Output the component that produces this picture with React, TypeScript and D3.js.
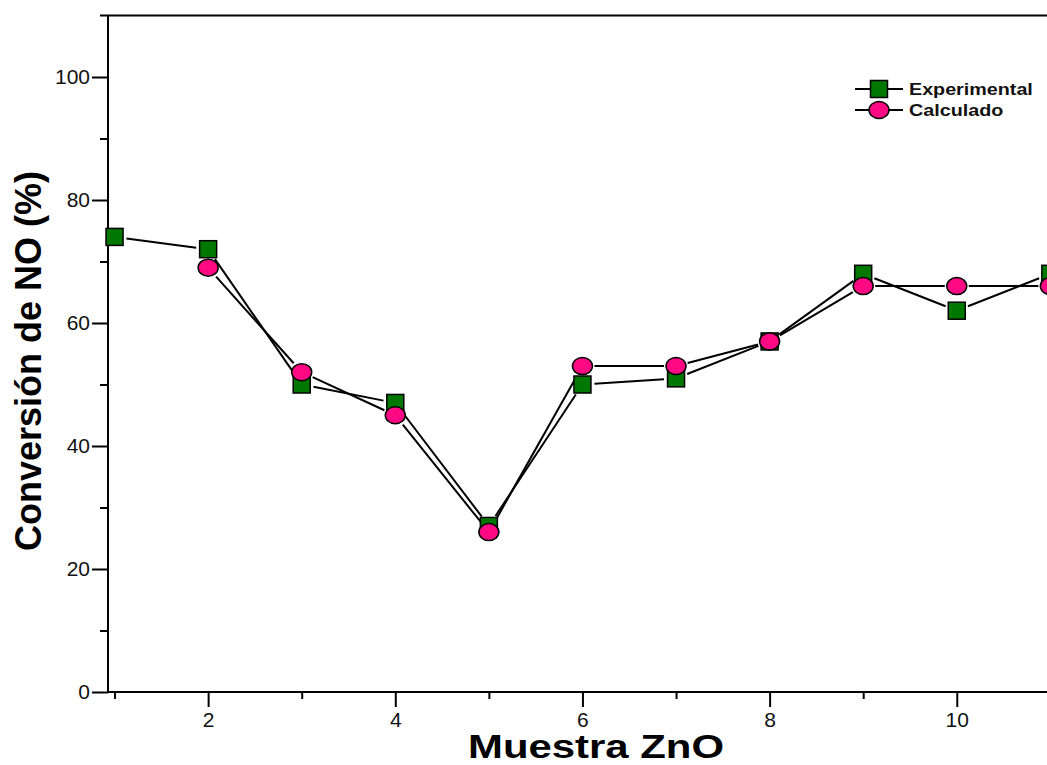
import React, { useEffect, useRef } from 'react';
import * as d3 from 'd3';

const W = 1047;
const H = 765;

// samples 1..11
const expX = [1, 2, 3, 4, 5, 6, 7, 8, 9, 10, 11];
const expY = [74, 72, 50, 47, 27, 50, 51, 57, 68, 62, 68];
const calcX = [2, 3, 4, 5, 6, 7, 8, 9, 10, 11];
const calcY = [69, 52, 45, 26, 53, 53, 57, 66, 66, 66];

const yMajor = [0, 20, 40, 60, 80, 100];
const yMinor = [10, 30, 50, 70, 90];
const xMajor = [2, 4, 6, 8, 10];
const xMinor = [1, 3, 5, 7, 9, 11];

const seriesNames = ['Experimental', 'Calculado'];

const GREEN = '#007800';
const PINK = '#ff0a84';
const FONT = 'Arial, "Liberation Sans", sans-serif';

export default function App() {
  const svgRef = useRef<SVGSVGElement>(null);

  useEffect(() => {
    if (!svgRef.current) return;
    const svg = d3.select(svgRef.current);
    svg.selectAll('*').remove();

    const x = d3.scaleLinear().domain([0.93, 11.5]).range([108, 108 + 10.57 * 93.58]);
    const y = d3.scaleLinear().domain([0, 110]).range([692, 15.5]);

    // frame
    svg.append('line').attr('x1', 100).attr('x2', W).attr('y1', y(110)).attr('y2', y(110))
      .attr('stroke', '#000').attr('stroke-width', 2);
    svg.append('line').attr('x1', 108).attr('x2', 108).attr('y1', y(110)).attr('y2', y(0) + 1)
      .attr('stroke', '#000').attr('stroke-width', 2);
    svg.append('line').attr('x1', 107).attr('x2', W).attr('y1', y(0)).attr('y2', y(0))
      .attr('stroke', '#000').attr('stroke-width', 2);

    // y axis
    const gy = svg.append('g').attr('transform', 'translate(108,0)');
    gy.call(d3.axisLeft(y).tickValues(yMajor).tickSize(16).tickPadding(2).tickFormat(d3.format('d')));
    gy.append('g').call(d3.axisLeft(y).tickValues(yMinor).tickSize(8).tickFormat(() => ''));
    gy.selectAll('.domain').remove();
    gy.selectAll('line').attr('stroke', '#000').attr('stroke-width', 2);
    gy.selectAll('text').attr('font-family', FONT).attr('font-size', 21).attr('fill', '#111');

    // x axis
    const gx = svg.append('g').attr('transform', `translate(0,${y(0)})`);
    gx.call(d3.axisBottom(x).tickValues(xMajor).tickSize(15).tickPadding(5).tickFormat(d3.format('d')));
    gx.append('g').call(d3.axisBottom(x).tickValues(xMinor).tickSize(7).tickFormat(() => ''));
    gx.selectAll('.domain').remove();
    gx.selectAll('line').attr('stroke', '#000').attr('stroke-width', 2);
    gx.selectAll('text').attr('font-family', FONT).attr('font-size', 21).attr('fill', '#111');

    // titles
    svg.append('text')
      .attr('transform', `translate(596,758) scale(1.27,1)`)
      .attr('text-anchor', 'middle')
      .attr('font-family', FONT).attr('font-weight', 'bold').attr('font-size', 33)
      .text('Muestra ZnO');
    svg.append('text')
      .attr('transform', 'translate(41,361) rotate(-90)')
      .attr('text-anchor', 'middle')
      .attr('font-family', FONT).attr('font-weight', 'bold').attr('font-size', 36)
      .text('Conversión de NO (%)');

    // connecting segments with a gap around each marker
    const gap = 12;
    function segments(xs: number[], ys: number[]) {
      const g = svg.append('g');
      for (let i = 0; i < xs.length - 1; i++) {
        const x0 = x(xs[i]), y0 = y(ys[i]), x1 = x(xs[i + 1]), y1 = y(ys[i + 1]);
        const len = Math.hypot(x1 - x0, y1 - y0);
        if (len <= gap * 2) continue;
        const ux = (x1 - x0) / len, uy = (y1 - y0) / len;
        g.append('line')
          .attr('x1', x0 + ux * gap).attr('y1', y0 + uy * gap)
          .attr('x2', x1 - ux * gap).attr('y2', y1 - uy * gap)
          .attr('stroke', '#000').attr('stroke-width', 2);
      }
    }
    segments(expX, expY);
    segments(calcX, calcY);

    const sq = 17;
    svg.append('g').selectAll('rect')
      .data(expX.map((d, i) => [d, expY[i]]))
      .join('rect')
      .attr('x', d => x(d[0]) - sq / 2).attr('y', d => y(d[1]) - sq / 2)
      .attr('width', sq).attr('height', sq)
      .attr('fill', GREEN).attr('stroke', '#000').attr('stroke-width', 1.5);

    svg.append('g').selectAll('ellipse')
      .data(calcX.map((d, i) => [d, calcY[i]]))
      .join('ellipse')
      .attr('cx', d => x(d[0])).attr('cy', d => y(d[1]))
      .attr('rx', 10).attr('ry', 8.5)
      .attr('fill', PINK).attr('stroke', '#000').attr('stroke-width', 1.5);

    // legend
    const lg = svg.append('g');
    seriesNames.forEach((name, i) => {
      const ly = 89 + i * 21;
      lg.append('line').attr('x1', 855).attr('x2', 903).attr('y1', ly).attr('y2', ly)
        .attr('stroke', '#000').attr('stroke-width', 2);
      if (i === 0) {
        lg.append('rect').attr('x', 879 - sq / 2).attr('y', ly - sq / 2).attr('width', sq).attr('height', sq)
          .attr('fill', GREEN).attr('stroke', '#000').attr('stroke-width', 1.5);
      } else {
        lg.append('ellipse').attr('cx', 879).attr('cy', ly).attr('rx', 10).attr('ry', 8.5)
          .attr('fill', PINK).attr('stroke', '#000').attr('stroke-width', 1.5);
      }
      lg.append('text')
        .attr('transform', `translate(909,${ly + 5.5}) scale(1.16,1)`)
        .attr('font-family', FONT).attr('font-weight', 'bold').attr('font-size', 17)
        .attr('fill', '#111')
        .text(name);
    });
  }, []);

  return (
    <svg ref={svgRef} width={W} height={H}
      style={{ position: 'absolute', left: 0, top: 0, background: '#fff', display: 'block' }} />
  );
}
